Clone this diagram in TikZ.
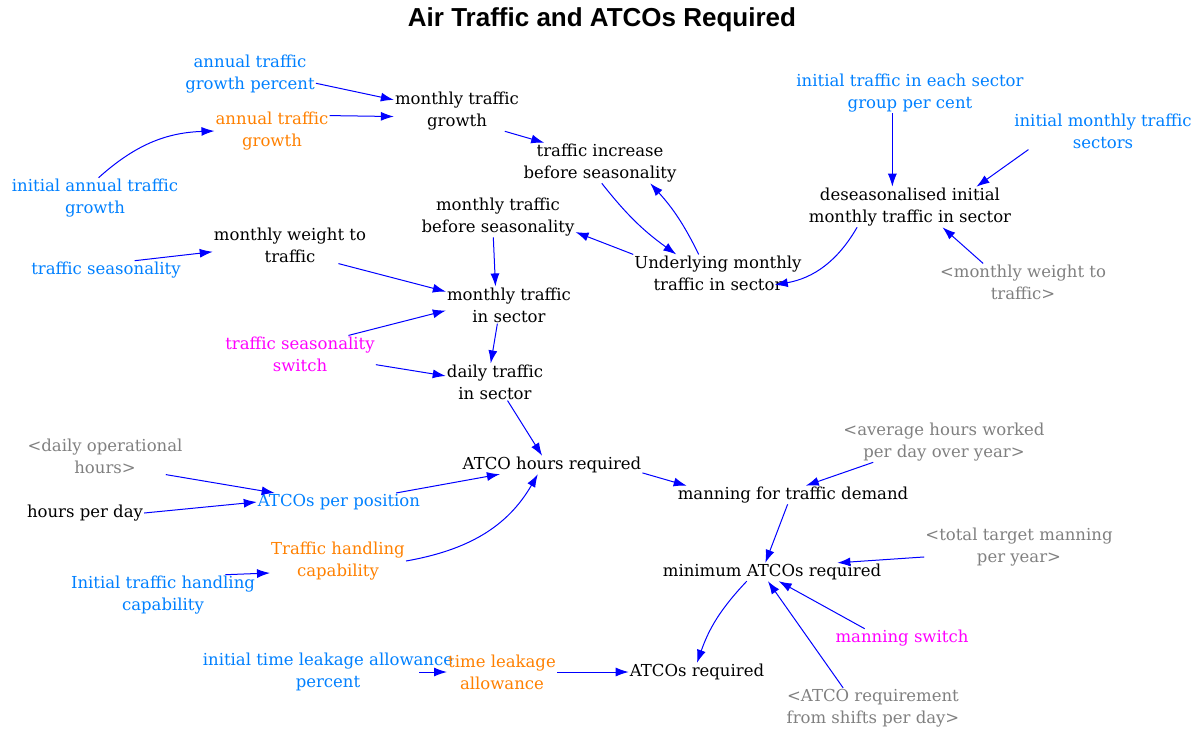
\documentclass[tikz,border=0pt]{standalone}
\usepackage{fontspec}
\setmainfont{DejaVu Serif}
\setsansfont{Liberation Sans}
\usepackage{tikz}
\usetikzlibrary{arrows.meta, positioning}
\usepackage{xcolor}
\definecolor{vensimblue}{RGB}{0, 128, 255}
\definecolor{vensimorange}{RGB}{255, 128, 0}
\definecolor{vensimpink}{RGB}{255, 0, 255}
\definecolor{vensimgray}{RGB}{128, 128, 128}
\definecolor{linkblue}{RGB}{0, 0, 255}

\begin{document}
\begin{tikzpicture}[x=1pt, y=1pt, every node/.style={align=center, inner sep=1pt, font=\fontsize{16.5}{22}\selectfont}]
    \tikzstyle{auxvar} = [text=black]
    \tikzstyle{constvar} = [text=vensimblue]
    \tikzstyle{levelvar} = [text=vensimorange]
    \tikzstyle{switchvar} = [text=vensimpink]
    \tikzstyle{shadowvar} = [text=vensimgray]
    \tikzstyle{arrow} = [linkblue, line width=1pt, -{Latex[length=13pt, width=9pt]}]

    \useasboundingbox (0,0) rectangle (1203,-732);

    \node (title) at (602,-20) [font=\sffamily\bfseries\fontsize{26}{28}\selectfont] {Air Traffic and ATCOs Required};

    % growth
    \node (atgp) at (250,-74) [constvar] {annual traffic\\growth percent};
    \node (atg) at (272,-131) [levelvar] {annual traffic\\growth};
    \node (iatg) at (95,-198) [constvar] {initial annual traffic\\growth};
    \node (mtg) at (457,-111) [auxvar] {monthly traffic\\growth};
    \node (tibs) at (600,-163) [auxvar] {traffic increase\\before seasonality};
    \node (itsg) at (910,-93) [constvar] {initial traffic in each sector\\group per cent};
    \node (imts) at (1103,-131) [constvar] {initial monthly traffic\\sectors};
    \node (dimt) at (910,-207) [auxvar] {deseasonalised initial\\monthly traffic in sector};
    \node (mtbs) at (498,-217) [auxvar] {monthly traffic\\before seasonality};
    \node (umts) at (718,-273) [auxvar] {Underlying monthly\\traffic in sector};

    % seasonality
    \node (mwt) at (290,-245) [auxvar] {monthly weight to\\traffic};
    \node (tseas) at (106,-270) [constvar] {traffic seasonality};
    \node (mwtsh) at (1023,-282) [shadowvar] {<monthly weight to\\traffic>};
    \node (mts) at (509,-305) [auxvar] {monthly traffic\\in sector};
    \node (tsw) at (300,-354) [switchvar] {traffic seasonality\\switch};
    \node (dts) at (495,-382) [auxvar] {daily traffic\\in sector};

    % hours and manning
    \node (dohsh) at (105,-456) [shadowvar] {<daily operational\\hours>};
    \node (ahr) at (552,-465) [auxvar] {ATCO hours required};
    \node (ahwsh) at (944,-442) [shadowvar] {<average hours worked\\per day over year>};
    \node (mftd) at (793,-495) [auxvar] {manning for traffic demand};
    \node (hpd) at (85,-513) [auxvar] {hours per day};
    \node (app) at (339,-502) [constvar] {ATCOs per position};
    \node (thc) at (338,-561) [levelvar] {Traffic handling\\capability};
    \node (ttmsh) at (1019,-547) [shadowvar] {<total target manning\\per year>};
    \node (mar) at (772,-572) [auxvar] {minimum ATCOs required};
    \node (ithc) at (163,-595) [constvar] {Initial traffic handling\\capability};
    \node (msw) at (902,-638) [switchvar] {manning switch};
    \node (itlap) at (328,-672) [constvar] {initial time leakage allowance\\percent};
    \node (tla) at (502,-672) [levelvar] {time leakage\\allowance};
    \node (ar) at (697,-672) [auxvar] {ATCOs required};
    \node (arssh) at (873,-708) [shadowvar] {<ATCO requirement\\from shifts per day>};

    \draw [arrow] (atgp.-8) -- (mtg.170);
    \draw [arrow] (atg.15) -- (mtg.185);
    \draw [arrow] (iatg.80) to[bend left=20] (atg.west);
    \draw [arrow] (mtg.-23) -- (tibs.160);
    \draw [arrow] (tibs.-85) to[bend right=8] (umts.156);
    \draw [arrow] (umts.136) to[bend right=8] (tibs.-22);
    \draw [arrow] (umts.north west) -- (mtbs.-11);
    \draw [arrow] (itsg.-131) -- (dimt.131);
    \draw [arrow] (imts.-166) -- (dimt.17);
    \draw [arrow] (dimt.-159) to[bend left=25] ([xshift=-28pt]umts.-8);
    \draw [arrow] (mwtsh.155) -- (dimt.-32);
    \draw [arrow] (tseas.18) -- (mwt.185);
    \draw [arrow] (mwt.-21) -- (mts.168);
    \draw [arrow] (mtbs.-103) -- (mts.126);
    \draw [arrow] (tsw.21) -- (mts.185);
    \draw [arrow] (mts.-122) -- (dts.103);
    \draw [arrow] (tsw.-8) -- (dts.173);
    \draw [arrow] (dts.-56) -- (ahr.137);
    \draw [arrow] (dohsh.-17) -- (app.172);
    \draw [arrow] (hpd.east) -- (app.west);
    \draw [arrow] (app.9) -- (ahr.190);
    \draw [arrow] (thc.east) to[out=10, in=-120] (ahr.-147);
    \draw [arrow] (ithc.18) -- (thc.190);
    \draw [arrow] (ahr.-5) -- (mftd.175);
    \draw [arrow] (ahwsh.-164) -- (mftd.36);
    \draw [arrow] (mftd.-120) -- (mar.126);
    \draw [arrow] (ttmsh.186) -- (mar.8);
    \draw [arrow] (mar.-160) to[bend right=12] (ar.north);
    \draw [arrow] (msw.166) -- (mar.-54);
    \draw [arrow] (arssh.146) -- (mar.-114);
    \draw [arrow] ([xshift=-35pt]itlap.east) -- (tla.west);
    \draw [arrow] (tla.east) -- (ar.west);
\end{tikzpicture}
\end{document}
